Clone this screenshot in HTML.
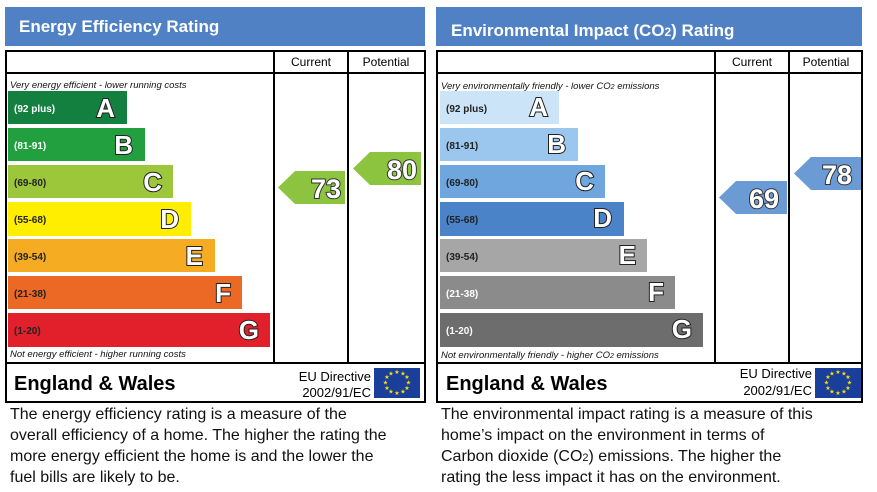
<!DOCTYPE html>
<html><head><meta charset="utf-8"><style>
html,body{margin:0;padding:0;background:#fff;width:877px;height:492px;overflow:hidden}
svg{display:block;font-family:"Liberation Sans",Arial,sans-serif}
.lt{fill:#fff;stroke:#222;stroke-width:2;paint-order:stroke;font-weight:bold;font-size:26px}
.nm{fill:#fff;stroke:#333;stroke-width:2;paint-order:stroke;font-weight:bold;font-size:27px}
.rg{font-size:10px;font-weight:bold}
.it{font-size:9.5px;font-style:italic;fill:#111}
.desc{font-size:16px;fill:#111}
</style></head><body>
<svg width="877" height="492" viewBox="0 0 877 492">
<defs>
<g id="flag"><rect width="46" height="30" fill="#1a3f9a"/>
<g fill="#ffe000" font-size="6" text-anchor="middle">
<text x="23" y="6">★</text><text x="29" y="7.5">★</text><text x="33" y="11">★</text><text x="34.5" y="16.5">★</text><text x="33" y="22">★</text><text x="29" y="25.5">★</text><text x="23" y="27">★</text><text x="17" y="25.5">★</text><text x="13" y="22">★</text><text x="11.5" y="16.5">★</text><text x="13" y="11">★</text><text x="17" y="7.5">★</text></g></g>
</defs>
<!-- LEFT PANEL -->
<rect x="5" y="7" width="420" height="39" fill="#4f81c4"/>
<text x="19" y="32" fill="#fff" font-weight="bold" font-size="17">Energy Efficiency Rating</text>
<rect x="6" y="51" width="419" height="351" fill="none" stroke="#000" stroke-width="2"/>
<line x1="6" y1="73" x2="425" y2="73" stroke="#000" stroke-width="2"/>
<line x1="274" y1="51" x2="274" y2="363" stroke="#000" stroke-width="2"/>
<line x1="348" y1="51" x2="348" y2="363" stroke="#000" stroke-width="2"/>
<line x1="6" y1="363" x2="425" y2="363" stroke="#000" stroke-width="2"/>
<text x="311" y="66" text-anchor="middle" font-size="12">Current</text>
<text x="386" y="66" text-anchor="middle" font-size="12">Potential</text>
<text x="10" y="88" class="it">Very energy efficient - lower running costs</text>
<rect x="8" y="91" width="119" height="33" fill="#138040"/>
<text x="14" y="112" class="rg" fill="#fff">(92 plus)</text><text x="115" y="117" class="lt" text-anchor="end">A</text>
<rect x="8" y="128" width="137" height="33" fill="#22a040"/>
<text x="14" y="149" class="rg" fill="#fff">(81-91)</text><text x="133" y="154" class="lt" text-anchor="end">B</text>
<rect x="8" y="165" width="165" height="33" fill="#9cc73b"/>
<text x="14" y="186" class="rg" fill="#222">(69-80)</text><text x="162" y="191" class="lt" text-anchor="end">C</text>
<rect x="8" y="202" width="183" height="34" fill="#ffee00"/>
<text x="14" y="223" class="rg" fill="#222">(55-68)</text><text x="179" y="228" class="lt" text-anchor="end">D</text>
<rect x="8" y="239" width="207" height="33" fill="#f6ac22"/>
<text x="14" y="260" class="rg" fill="#222">(39-54)</text><text x="203" y="265" class="lt" text-anchor="end">E</text>
<rect x="8" y="276" width="234" height="33" fill="#ec6825"/>
<text x="14" y="297" class="rg" fill="#222">(21-38)</text><text x="231" y="302" class="lt" text-anchor="end">F</text>
<rect x="8" y="313" width="262" height="34" fill="#e1202b"/>
<text x="14" y="334" class="rg" fill="#222">(1-20)</text><text x="259" y="339" class="lt" text-anchor="end">G</text>
<text x="10" y="357" class="it">Not energy efficient - higher running costs</text>
<polygon points="278,187.5 295,171 345,171 345,204 295,204" fill="#8cc43f"/>
<text x="341" y="198" class="nm" text-anchor="end">73</text>
<polygon points="353,168.5 370,152 421,152 421,185 370,185" fill="#8cc43f"/>
<text x="417" y="179" class="nm" text-anchor="end">80</text>
<text x="14" y="390" font-weight="bold" font-size="20">England &amp; Wales</text>
<text x="371" y="381" text-anchor="end" font-size="13">EU Directive</text>
<text x="371" y="397" text-anchor="end" font-size="13">2002/91/EC</text>
<use href="#flag" x="374" y="368"/>
<text x="10" y="419" class="desc">The energy efficiency rating is a measure of the</text>
<text x="10" y="440" class="desc">overall efficiency of a home. The higher the rating the</text>
<text x="10" y="461" class="desc">more energy efficient the home is and the lower the</text>
<text x="10" y="482" class="desc">fuel bills are likely to be.</text>

<!-- RIGHT PANEL -->
<rect x="436" y="7" width="426" height="39" fill="#4f81c4"/>
<text x="451" y="36" fill="#fff" font-weight="bold" font-size="17">Environmental Impact (CO<tspan font-size="12">2</tspan>) Rating</text>
<rect x="437" y="51" width="425" height="351" fill="none" stroke="#000" stroke-width="2"/>
<line x1="437" y1="73" x2="862" y2="73" stroke="#000" stroke-width="2"/>
<line x1="715" y1="51" x2="715" y2="363" stroke="#000" stroke-width="2"/>
<line x1="789" y1="51" x2="789" y2="363" stroke="#000" stroke-width="2"/>
<line x1="437" y1="363" x2="862" y2="363" stroke="#000" stroke-width="2"/>
<text x="752" y="66" text-anchor="middle" font-size="12">Current</text>
<text x="826" y="66" text-anchor="middle" font-size="12">Potential</text>
<text x="441" y="89" class="it">Very environmentally friendly - lower CO<tspan font-size="7">2</tspan> emissions</text>
<rect x="440" y="91" width="119" height="33" fill="#cce4f7"/>
<text x="446" y="112" class="rg" fill="#222">(92 plus)</text><text x="548" y="116" class="lt" text-anchor="end">A</text>
<rect x="440" y="128" width="138" height="33" fill="#9bc7ee"/>
<text x="446" y="149" class="rg" fill="#222">(81-91)</text><text x="566" y="153" class="lt" text-anchor="end">B</text>
<rect x="440" y="165" width="165" height="33" fill="#6ea6dd"/>
<text x="446" y="186" class="rg" fill="#222">(69-80)</text><text x="594" y="190" class="lt" text-anchor="end">C</text>
<rect x="440" y="202" width="184" height="34" fill="#4b83c8"/>
<text x="446" y="223" class="rg" fill="#222">(55-68)</text><text x="612" y="227" class="lt" text-anchor="end">D</text>
<rect x="440" y="239" width="207" height="33" fill="#a6a6a6"/>
<text x="446" y="260" class="rg" fill="#222">(39-54)</text><text x="636" y="264" class="lt" text-anchor="end">E</text>
<rect x="440" y="276" width="235" height="33" fill="#8b8b8b"/>
<text x="446" y="297" class="rg" fill="#fff">(21-38)</text><text x="664" y="301" class="lt" text-anchor="end">F</text>
<rect x="440" y="313" width="263" height="34" fill="#6d6d6d"/>
<text x="446" y="334" class="rg" fill="#fff">(1-20)</text><text x="692" y="338" class="lt" text-anchor="end">G</text>
<text x="441" y="358" class="it">Not environmentally friendly - higher CO<tspan font-size="7">2</tspan> emissions</text>
<polygon points="719,197.5 736,181 787,181 787,214 736,214" fill="#6b9bd5"/>
<text x="779" y="208" class="nm" text-anchor="end">69</text>
<polygon points="794,173.5 811,157 861,157 861,190 811,190" fill="#6b9bd5"/>
<text x="852" y="184" class="nm" text-anchor="end">78</text>
<text x="446" y="390" font-weight="bold" font-size="20">England &amp; Wales</text>
<text x="812" y="378" text-anchor="end" font-size="13">EU Directive</text>
<text x="812" y="395" text-anchor="end" font-size="13">2002/91/EC</text>
<use href="#flag" x="815" y="368"/>
<text x="441" y="419" class="desc">The environmental impact rating is a measure of this</text>
<text x="441" y="440" class="desc">home’s impact on the environment in terms of</text>
<text x="441" y="461" class="desc">Carbon dioxide (CO<tspan font-size="11">2</tspan>) emissions. The higher the</text>
<text x="441" y="482" class="desc">rating the less impact it has on the environment.</text>
</svg>
</body></html>
